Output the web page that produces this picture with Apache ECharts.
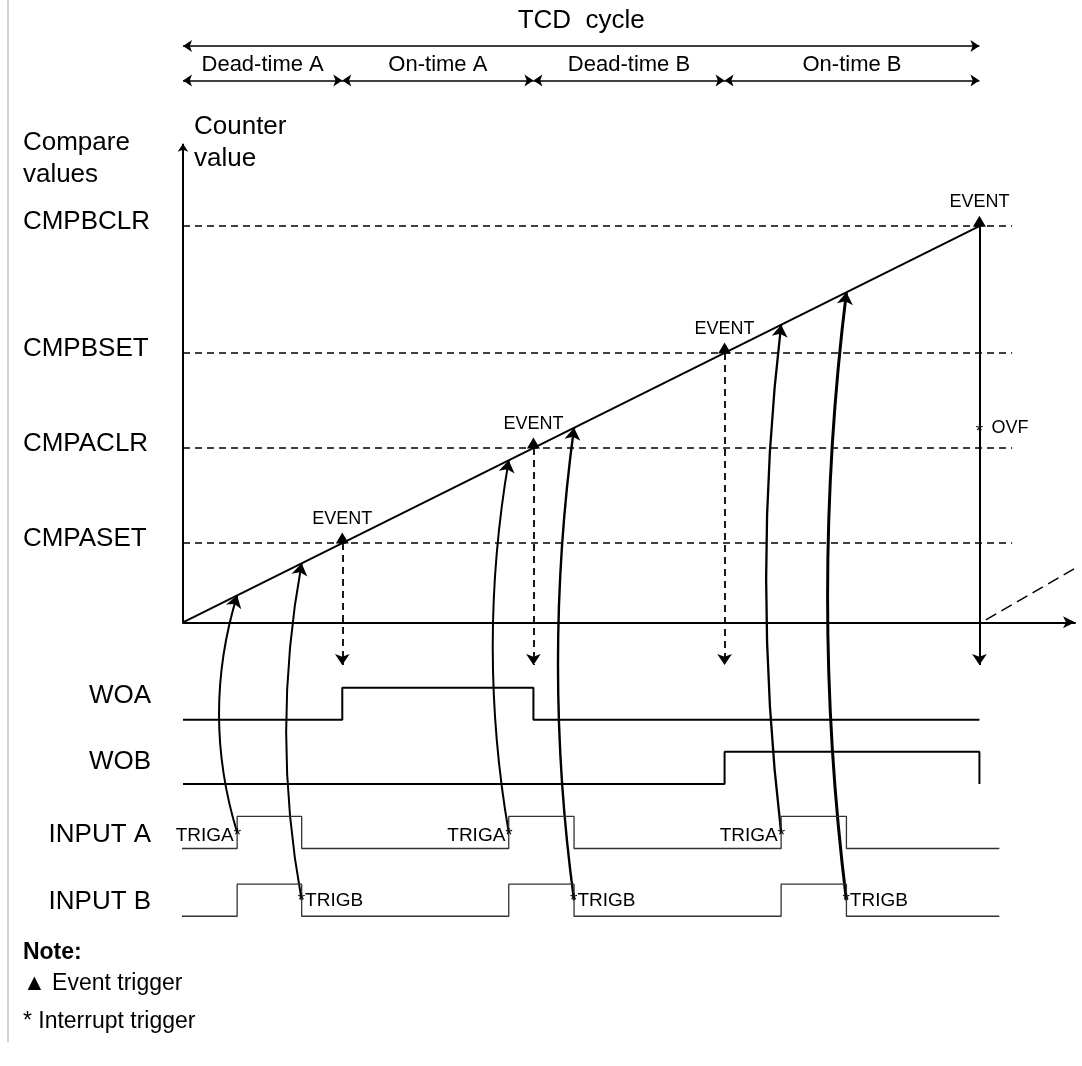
<!DOCTYPE html>
<html><head><meta charset="utf-8">
<style>html,body{margin:0;padding:0;background:#fff}#c{width:1082px;height:1066px}</style>
<script src="https://cdn.jsdelivr.net/npm/echarts@6/dist/echarts.min.js"></script>
</head><body><div id="c"></div>
<script>
// ---------------- data ----------------
const cycleBounds   = [0, 20, 44, 68, 100];            // TCD cycle segment boundaries (time)
const segmentNames  = ['Dead-time A', 'On-time A', 'Dead-time B', 'On-time B'];
const compareNames  = ['CMPASET', 'CMPACLR', 'CMPBSET', 'CMPBCLR'];
const compareValues = [20, 44, 68, 100];
const eventTimes    = [20, 44, 68, 100];
const counterRamp   = [[0, 0], [100, 100]];
const nextRamp      = [[100.8, 0.6], [112.3, 14.0]];
const laneNames     = ['WOA', 'WOB', 'INPUT A', 'INPUT B'];
const woaTimes      = [0, 20, 44, 100];
const woaLevels     = [0, 1, 0, 0];
const wobTimes      = [0, 68, 100];
const wobLevels     = [0, 1, 0];
const inputTimes    = [-0.2, 6.8, 14.9, 40.9, 49.1, 75.1, 83.3, 102.5];
const inputALevels  = [0, 1, 0, 1, 0, 1, 0, 0];
const inputBLevels  = [0, 1, 0, 1, 0, 1, 0, 0];
const trigATimes    = [6.8, 40.9, 75.1];
const trigBTimes    = [14.9, 49.1, 83.3];
const ovfTime       = 100;
const noteLines     = ['Note:', '\u25B2 Event trigger', '* Interrupt trigger'];

// ---------------- layout (axis units) ----------------
const X_MIN = 0, X_MAX = 112, Y_MIN = -112, Y_MAX = 121;
const LANE_LOW = [-24.6, -40.8, -57.1, -74.2], LANE_H = 8.1;
const LANE_LABEL_Y = [-18.6, -35.2, -53.6, -70.5], LANE_LABEL_X = -4.0;
const TITLE_Y = 151.8, BAND_TOP_Y = 145.5, BAND_LABEL_Y = 140.6, BAND_ARROW_Y = 136.8;
const EVENT_ARROW_END = -10.8, DASH_END = 104.1, LABEL_X = -20.1, YAXIS_TOP = 120.8;
const OVF_Y = 49, NOTE_Y = [-83.5, -91.3, -100.9];
const TRIGA_CURVE = [0.153, 0.086, 0.059], TRIGB_CURVE = [0.092, 0.068, 0.062];
const TRIGA_W = [2, 2, 2.3], TRIGB_W = [2, 2.4, 3];

const FONT = 'Arial, "Liberation Sans", Helvetica, sans-serif';
const INK = '#000';

function lane(i, times, levels) { return times.map((t, k) => [t, LANE_LOW[i] + levels[k] * LANE_H]); }
function mid(i) { return LANE_LOW[i] + LANE_H / 2; }
function txt(x, y, text, o) {
  return { value: [x, y], label: Object.assign({ show: true, position: 'inside', formatter: text,
    align: 'center', verticalAlign: 'middle', color: INK, opacity: 1, fontFamily: FONT, fontSize: 18 }, o || {}) };
}
function linesSeries(data, o) {
  return Object.assign({ type: 'lines', coordinateSystem: 'cartesian2d', clip: false, silent: true,
    symbol: ['none', 'none'], symbolSize: 10, data: data.map(c => ({ coords: c })),
    lineStyle: { color: INK, width: 2, opacity: 1, curveness: 0 }, z: 3 }, o || {});
}
function stepSeries(data, w, color) {
  return { type: 'line', data: data, step: 'end', showSymbol: false, clip: false, silent: true,
    lineStyle: { color: color, width: w }, z: 3 };
}

const series = [];
// compare levels (dashed)
series.push(linesSeries(compareValues.map(v => [[0, v], [DASH_END, v]]),
  { lineStyle: { color: INK, width: 1.5, type: [7, 5], opacity: 1 } }));
// counter ramp
series.push({ type: 'line', data: counterRamp, showSymbol: false, clip: false, silent: true,
  lineStyle: { color: INK, width: 2 }, z: 4 });
// next cycle ramp (dashed)
series.push(linesSeries([nextRamp], { lineStyle: { color: INK, width: 1.5, type: [12, 6], opacity: 1 } }));
// event dashed arrows
series.push(linesSeries(eventTimes.slice(0, 3).map(t => [[t, t], [t, EVENT_ARROW_END]]),
  { symbol: ['none', 'arrow'], symbolSize: 11, lineStyle: { color: INK, width: 1.8, type: [7, 5], opacity: 1 } }));
// overflow solid arrow
series.push(linesSeries([[[ovfTime, ovfTime], [ovfTime, EVENT_ARROW_END]]],
  { symbol: ['none', 'arrow'], symbolSize: 11, lineStyle: { color: INK, width: 2, opacity: 1 } }));
// y axis with arrow
series.push(linesSeries([[[0, 0], [0, YAXIS_TOP]]],
  { symbol: ['none', 'arrow'], symbolSize: 8, lineStyle: { color: INK, width: 2, opacity: 1 } }));
// top band double arrows
const band = [[[cycleBounds[0], BAND_TOP_Y], [cycleBounds[4], BAND_TOP_Y]]];
for (let i = 0; i < 4; i++) band.push([[cycleBounds[i], BAND_ARROW_Y], [cycleBounds[i + 1], BAND_ARROW_Y]]);
series.push(linesSeries(band, { symbol: ['arrow', 'arrow'], symbolSize: 9, lineStyle: { color: INK, width: 1.6, opacity: 1 } }));
// waveforms
series.push(stepSeries(lane(0, woaTimes, woaLevels), 2, INK));
series.push(stepSeries(lane(1, wobTimes, wobLevels), 2, INK));
series.push(stepSeries(lane(2, inputTimes, inputALevels), 1.3, '#333'));
series.push(stepSeries(lane(3, inputTimes, inputBLevels), 1.3, '#333'));
// trigger arrows (curved) from input edges to the counter ramp
trigATimes.forEach((t, i) => series.push(linesSeries([[[t, mid(2)], [t, t]]],
  { symbol: ['none', 'arrow'], symbolSize: 12, lineStyle: { color: INK, width: TRIGA_W[i], curveness: TRIGA_CURVE[i], opacity: 1 } })));
trigBTimes.forEach((t, i) => series.push(linesSeries([[[t, mid(3)], [t, t]]],
  { symbol: ['none', 'arrow'], symbolSize: 12, lineStyle: { color: INK, width: TRIGB_W[i], curveness: TRIGB_CURVE[i], opacity: 1 } })));
// event triangles
series.push({ type: 'scatter', data: eventTimes.map(t => [t, t]), symbol: 'triangle', symbolSize: [13, 11],
  symbolOffset: [0, -5], clip: false, silent: true, itemStyle: { color: INK, opacity: 1 }, z: 6 });

// texts
const texts = [];
texts.push(txt((cycleBounds[0] + cycleBounds[4]) / 2, TITLE_Y, 'TCD  cycle', { fontSize: 26 }));
segmentNames.forEach((s, i) => texts.push(txt((cycleBounds[i] + cycleBounds[i + 1]) / 2, BAND_LABEL_Y, s, { fontSize: 22 })));
texts.push(txt(LABEL_X, 117.0, 'Compare\nvalues', { align: 'left', fontSize: 26, lineHeight: 32 }));
texts.push(txt(1.38, 121.0, 'Counter\nvalue', { align: 'left', fontSize: 26, lineHeight: 32 }));
compareNames.forEach((n, i) => texts.push(txt(LABEL_X, compareValues[i], n, { align: 'left', fontSize: 26, offset: [0, -4] })));
eventTimes.forEach(t => texts.push(txt(t, t, 'EVENT', { fontSize: 18, offset: [0, -24] })));
texts.push(txt(ovfTime, OVF_Y, '*', { fontSize: 19, offset: [0, 4] }));
texts.push(txt(ovfTime + 1.5, OVF_Y, 'OVF', { align: 'left', fontSize: 18 }));
laneNames.forEach((n, i) => texts.push(txt(LANE_LABEL_X, LANE_LABEL_Y[i], n, { align: 'right', fontSize: 26 })));
trigATimes.forEach(t => texts.push(txt(t, mid(2), 'TRIGA*', { align: 'right', fontSize: 19, offset: [4, 3] })));
trigBTimes.forEach(t => texts.push(txt(t, mid(3), '*TRIGB', { align: 'left', fontSize: 19, offset: [-4, 1] })));
texts.push(txt(LABEL_X, NOTE_Y[0], noteLines[0], { align: 'left', fontSize: 23, fontWeight: 'bold' }));
texts.push(txt(LABEL_X, NOTE_Y[1], noteLines[1], { align: 'left', fontSize: 23 }));
texts.push(txt(LABEL_X, NOTE_Y[2], noteLines[2], { align: 'left', fontSize: 23 }));
series.push({ type: 'scatter', data: texts, symbolSize: 1, clip: false, silent: true,
  itemStyle: { color: 'rgba(0,0,0,0)', opacity: 1 }, z: 10 });

const chart = echarts.init(document.getElementById('c'), null, { renderer: 'canvas' });
chart.setOption({
  animation: false,
  backgroundColor: '#fff',
  grid: { left: 183, right: 7, top: 143, bottom: 0, containLabel: false },
  xAxis: { type: 'value', min: X_MIN, max: X_MAX,
    axisLine: { show: true, onZero: true, symbol: ['none', 'arrow'], symbolSize: [9, 12],
      lineStyle: { color: INK, width: 2 } },
    axisTick: { show: false }, axisLabel: { show: false }, splitLine: { show: false } },
  yAxis: { type: 'value', min: Y_MIN, max: Y_MAX,
    axisLine: { show: false }, axisTick: { show: false }, axisLabel: { show: false }, splitLine: { show: false } },
  graphic: [{ type: 'line', shape: { x1: 8, y1: 0, x2: 8, y2: 1042 }, style: { stroke: '#c4c4c4', lineWidth: 1.5 }, silent: true }],
  series: series
});
</script>
</body></html>
